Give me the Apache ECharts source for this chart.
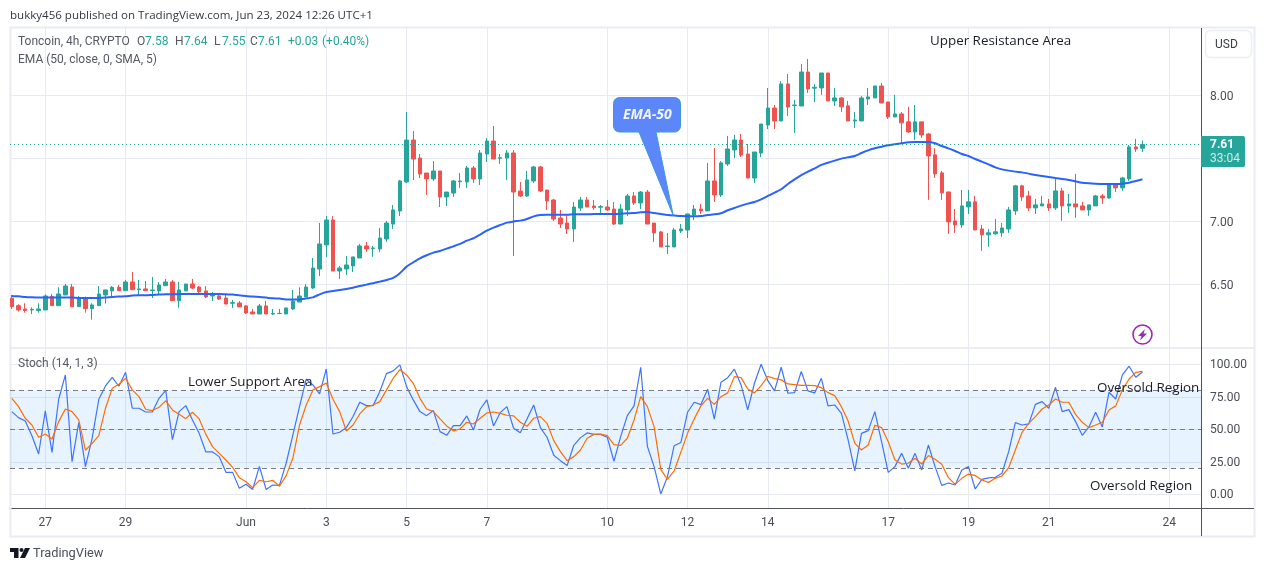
<!DOCTYPE html>
<html><head><meta charset="utf-8">
<style>html,body{margin:0;padding:0;background:#fff}#c{width:1265px;height:571px}</style>
<script src="https://cdn.jsdelivr.net/npm/echarts@6/dist/echarts.min.js"></script>
</head><body><div id="c"></div>
<script>
const opens=[6.388,6.330,6.304,6.296,6.291,6.296,6.404,6.330,6.415,6.478,6.322,6.391,6.306,6.330,6.415,6.447,6.476,6.449,6.518,6.457,6.463,6.449,6.447,6.489,6.518,6.370,6.447,6.502,6.478,6.447,6.407,6.407,6.391,6.349,6.351,6.328,6.280,6.264,6.328,6.264,6.267,6.264,6.304,6.359,6.399,6.470,6.621,6.812,7.010,6.605,6.621,6.645,6.709,6.804,6.783,6.780,6.859,6.978,7.082,7.312,7.645,7.502,7.383,7.336,7.399,7.193,7.224,7.314,7.312,7.423,7.336,7.534,7.637,7.500,7.502,7.542,7.240,7.201,7.320,7.431,7.248,7.169,7.026,6.986,6.939,7.105,7.169,7.121,7.111,7.113,7.097,6.978,7.090,7.201,7.145,7.232,6.986,6.915,6.799,6.796,6.923,6.931,7.050,7.097,7.082,7.320,7.209,7.455,7.566,7.645,7.534,7.343,7.542,7.764,7.899,7.796,8.090,7.918,7.915,8.185,8.056,8.058,8.177,7.955,7.979,7.916,7.796,7.796,7.971,7.979,8.074,7.947,7.828,7.852,7.789,7.709,7.789,7.693,7.527,7.384,7.233,7.003,6.971,7.114,7.154,6.939,6.892,6.900,6.908,6.939,7.082,7.281,7.201,7.106,7.122,7.138,7.106,7.241,7.122,7.138,7.122,7.090,7.122,7.201,7.185,7.289,7.265,7.336,7.590,7.58];
const closes=[6.322,6.296,6.291,6.301,6.304,6.407,6.330,6.423,6.486,6.322,6.394,6.306,6.336,6.423,6.455,6.476,6.449,6.518,6.457,6.463,6.449,6.455,6.494,6.518,6.370,6.455,6.502,6.470,6.441,6.399,6.415,6.383,6.343,6.354,6.320,6.272,6.264,6.328,6.264,6.269,6.269,6.312,6.367,6.407,6.478,6.629,6.820,7.010,6.605,6.629,6.653,6.717,6.804,6.780,6.788,6.867,6.986,7.090,7.320,7.645,7.494,7.375,7.336,7.399,7.193,7.232,7.320,7.320,7.423,7.336,7.542,7.637,7.494,7.505,7.542,7.232,7.201,7.328,7.431,7.240,7.161,7.018,6.978,6.939,7.113,7.169,7.113,7.108,7.116,7.090,6.978,7.097,7.201,7.145,7.232,6.978,6.907,6.796,6.804,6.931,6.939,7.058,7.097,7.082,7.320,7.209,7.463,7.574,7.645,7.526,7.343,7.550,7.772,7.899,7.796,8.090,7.907,7.923,8.185,8.050,8.064,8.177,7.955,7.979,7.908,7.796,7.804,7.979,7.987,8.074,7.939,7.828,7.852,7.781,7.709,7.789,7.685,7.519,7.376,7.225,6.995,6.971,7.122,7.154,6.931,6.892,6.908,6.916,6.947,7.090,7.281,7.193,7.106,7.130,7.138,7.106,7.241,7.122,7.138,7.114,7.090,7.130,7.201,7.185,7.289,7.265,7.344,7.590,7.574,7.61];
const lows=[6.304,6.283,6.275,6.264,6.275,6.296,6.330,6.330,6.415,6.322,6.322,6.275,6.219,6.330,6.346,6.402,6.449,6.449,6.457,6.415,6.449,6.391,6.415,6.489,6.370,6.314,6.447,6.463,6.428,6.391,6.367,6.375,6.343,6.312,6.320,6.264,6.264,6.264,6.264,6.256,6.264,6.264,6.296,6.359,6.399,6.463,6.566,6.717,6.605,6.542,6.574,6.597,6.709,6.756,6.717,6.756,6.836,6.939,7.042,7.304,7.328,7.343,7.209,7.320,7.113,7.121,7.193,7.264,7.264,7.304,7.288,7.470,7.494,7.455,7.328,6.724,7.193,7.193,7.304,7.232,7.090,7.002,6.947,6.899,6.836,7.082,7.113,7.090,7.066,7.082,6.970,6.978,7.042,7.129,7.097,6.978,6.836,6.796,6.740,6.796,6.907,6.867,7.010,7.058,7.082,7.153,7.193,7.439,7.502,7.510,7.343,7.304,7.510,7.732,7.732,7.796,7.836,7.701,7.915,8.018,7.947,8.003,7.955,7.916,7.868,7.796,7.741,7.796,7.923,7.979,7.939,7.812,7.828,7.614,7.701,7.646,7.662,7.170,7.344,7.170,6.900,6.908,6.947,7.058,6.931,6.765,6.797,6.892,6.876,6.908,7.050,7.162,7.082,7.058,7.122,7.082,7.090,7.003,7.066,7.027,7.090,7.043,7.122,7.138,7.177,7.233,7.241,7.320,7.550,7.55];
const highs=[6.415,6.341,6.349,6.317,6.349,6.420,6.423,6.476,6.502,6.502,6.407,6.402,6.349,6.486,6.455,6.486,6.494,6.534,6.597,6.534,6.526,6.558,6.518,6.542,6.534,6.518,6.502,6.542,6.486,6.486,6.439,6.423,6.423,6.375,6.367,6.336,6.304,6.344,6.367,6.304,6.304,6.312,6.455,6.476,6.502,6.709,6.986,7.042,7.042,6.645,6.724,6.717,6.820,6.836,6.804,6.947,7.002,7.129,7.328,7.867,7.716,7.534,7.383,7.478,7.399,7.232,7.328,7.383,7.439,7.439,7.566,7.661,7.756,7.534,7.566,7.566,7.312,7.399,7.439,7.439,7.248,7.177,7.090,7.050,7.153,7.193,7.193,7.169,7.129,7.169,7.153,7.137,7.217,7.232,7.240,7.248,6.986,6.923,6.907,6.947,6.978,7.058,7.129,7.137,7.463,7.582,7.478,7.677,7.685,7.693,7.613,7.550,7.772,8.058,7.923,8.113,8.169,7.963,8.248,8.288,8.090,8.177,8.177,8.058,7.987,7.955,7.868,7.995,8.058,8.074,8.098,7.947,8.003,7.868,7.908,7.923,7.789,7.701,7.582,7.400,7.233,7.098,7.249,7.249,7.201,6.971,6.939,7.019,6.987,7.114,7.289,7.289,7.241,7.177,7.201,7.177,7.344,7.265,7.217,7.376,7.154,7.130,7.209,7.217,7.304,7.304,7.352,7.606,7.654,7.64];
const ema50=[6.407,6.404,6.399,6.396,6.394,6.394,6.394,6.394,6.394,6.394,6.391,6.391,6.391,6.391,6.394,6.399,6.402,6.404,6.410,6.412,6.412,6.415,6.418,6.420,6.420,6.423,6.423,6.423,6.423,6.423,6.423,6.423,6.420,6.418,6.412,6.407,6.402,6.399,6.394,6.388,6.386,6.380,6.380,6.380,6.388,6.396,6.420,6.439,6.447,6.455,6.463,6.473,6.486,6.497,6.508,6.521,6.534,6.550,6.588,6.640,6.674,6.706,6.730,6.751,6.764,6.783,6.801,6.820,6.846,6.865,6.894,6.925,6.949,6.970,6.989,6.999,7.005,7.018,7.039,7.050,7.052,7.052,7.052,7.052,7.055,7.055,7.055,7.058,7.058,7.058,7.058,7.060,7.063,7.066,7.071,7.074,7.066,7.058,7.050,7.045,7.042,7.039,7.039,7.042,7.050,7.055,7.063,7.087,7.105,7.124,7.140,7.153,7.174,7.201,7.227,7.254,7.296,7.333,7.367,7.394,7.420,7.447,7.465,7.481,7.497,7.508,7.518,7.542,7.563,7.579,7.592,7.603,7.611,7.619,7.627,7.629,7.629,7.629,7.619,7.597,7.579,7.558,7.534,7.518,7.494,7.473,7.452,7.428,7.412,7.402,7.394,7.388,7.378,7.367,7.359,7.351,7.343,7.336,7.328,7.317,7.306,7.301,7.298,7.296,7.296,7.296,7.298,7.306,7.320,7.333];
const stochK=[63.6,59.0,56.4,45.1,31.0,64.1,32.3,73.1,91.8,25.1,55.1,21.3,43.1,73.1,83.3,90.0,83.1,93.8,66.2,66.2,63.3,63.3,73.8,80.0,42.0,63.6,68.2,57.2,46.9,32.6,32.6,29.0,16.9,16.9,4.6,7.7,3.8,21.5,3.8,7.2,6.9,23.9,45.6,67.4,88.5,84.1,77.2,96.4,46.4,47.7,51.3,59.8,70.8,68.2,68.2,79.0,92.8,94.9,99.5,82.8,72.6,63.6,60.5,64.4,48.2,45.4,52.8,52.8,60.3,49.5,65.4,72.6,52.6,62.8,67.4,50.8,47.4,57.9,68.7,51.3,43.9,30.0,25.9,22.1,37.7,43.6,47.2,46.1,46.1,43.9,25.4,44.4,60.5,68.0,97.7,36.9,21.3,0.3,13.6,37.4,39.8,63.1,70.8,69.0,80.8,57.9,86.2,89.7,96.2,84.1,64.9,85.4,100,87.4,79.5,97.7,77.7,78.2,94.4,79.5,78.0,89.2,68.0,68.7,62.3,41.8,18.0,46.9,49.0,63.6,40.5,16.9,21.3,31.5,20.0,31.5,18.7,37.9,21.3,6.9,8.7,7.2,18.7,21.3,4.1,11.5,12.6,13.1,16.2,32.8,55.1,53.3,54.1,69.2,71.3,66.2,82.3,63.6,65.1,55.9,45.4,51.8,63.1,51.8,78.5,73.3,91.8,98.5,90.0,94.1];
const stochD=[73.8,67.4,58.5,53.3,43.9,46.4,42.6,55.9,65.6,63.6,57.2,33.9,39.2,45.1,66.2,81.5,84.6,89.2,80.3,75.1,65.4,64.4,66.9,72.1,64.9,61.5,58.2,63.1,58.0,46.1,36.7,31.5,26.4,20.8,12.8,9.7,5.1,10.8,9.7,10.8,6.2,14.4,27.7,53.3,68.7,80.3,82.8,85.6,73.1,63.6,48.7,53.3,61.8,67.2,68.7,71.3,80.3,89.2,95.9,91.8,85.4,73.8,65.6,63.6,58.0,52.6,48.7,50.3,55.4,54.1,58.5,62.6,63.3,62.3,60.8,60.3,55.4,52.3,58.5,59.8,54.6,41.3,32.8,25.9,29.0,34.1,43.1,46.1,46.4,45.1,38.2,37.7,43.1,57.2,75.1,67.4,52.1,19.2,11.5,18.0,32.3,46.9,58.0,68.0,73.8,69.2,75.1,78.0,90.5,89.7,81.0,78.0,83.6,90.8,89.0,88.0,84.9,84.4,83.8,83.8,83.6,82.0,78.2,75.9,67.4,56.4,39.2,34.1,37.9,53.1,51.3,40.5,26.4,23.3,23.9,27.7,23.3,29.8,26.9,23.1,12.8,7.7,12.3,15.6,14.4,11.0,9.2,12.3,14.1,20.5,34.1,47.7,54.6,59.8,65.6,68.7,73.3,70.8,70.8,61.5,55.4,51.3,53.3,55.4,64.9,68.0,80.3,88.7,93.8,94.5];
const dateTickBars=[5,17,35,47,59,71,89,101,113,131,143,155,173];
const dateTickLabels=['27','29','Jun','3','5','7','10','12','14','17','19','21','24'];
const priceGridTicks=[6.5,7,7.5,8];
const priceLabelTicks=[6.5,7,8];
const stochTicks=[0,25,50,75,100];
const lastPrice=7.61;

const UP='#26a69a',DOWN='#ef5350',GRID='#e7ebf1',AX='#50535e',TXT='#4a4d57';
const FF='"Open Sans","Noto Sans",sans-serif', RB='Roboto,sans-serif';
const candleData=opens.map((o,i)=>[i,o,closes[i],lows[i],highs[i]]);
const barIdx=opens.map((_,i)=>i);
const xBase={type:'value',min:-0.277,max:177.75,axisLine:{show:false},
  axisTick:{show:false,customValues:dateTickBars},
  splitLine:{show:true,lineStyle:{color:GRID,width:1}}};
const chart=echarts.init(document.getElementById('c'),null,{renderer:'canvas'});
const t=(x,y,text,size,color,extra,z)=>({type:'text',x,y:y+1,silent:true,z:z||50,
  style:Object.assign({text,fontSize:size,fontFamily:RB,fill:color,verticalAlign:'middle'},extra||{})});
const op=(x,y,text,size,color)=>t(x,y,text,size,color,{fontFamily:FF});
chart.setOption({
  animation:false,backgroundColor:'#fff',
  grid:[{left:10,top:28,width:1191,height:319},{left:10,top:348,width:1191,height:160}],
  xAxis:[
    Object.assign({},xBase,{gridIndex:0,axisLabel:{show:false}}),
    Object.assign({},xBase,{gridIndex:1,
      axisLine:{show:true,onZero:false,lineStyle:{color:AX,width:1}},
      axisLabel:{show:true,customValues:dateTickBars,color:TXT,fontSize:12,fontFamily:RB,margin:9,
        formatter:v=>dateTickLabels[dateTickBars.indexOf(v)]}})
  ],
  yAxis:[
    {type:'value',gridIndex:0,position:'right',min:6.002,max:8.534,
     axisLine:{show:false},axisTick:{show:false,customValues:priceGridTicks},
     splitLine:{show:true,lineStyle:{color:GRID,width:1}},
     axisLabel:{customValues:priceLabelTicks,color:TXT,fontSize:12,fontFamily:RB,margin:9,verticalAlign:'top',lineHeight:3,formatter:v=>v.toFixed(2)}},
    {type:'value',gridIndex:1,position:'right',min:-10.5,max:112.5,
     axisLine:{show:false},axisTick:{show:false,customValues:stochTicks},
     splitLine:{show:true,lineStyle:{color:GRID,width:1}},
     axisLabel:{customValues:stochTicks,color:TXT,fontSize:12,fontFamily:RB,margin:9,verticalAlign:'top',lineHeight:2,formatter:v=>v.toFixed(2)}}
  ],
  series:[
    {type:'candlestick',name:'Toncoin',xAxisIndex:0,yAxisIndex:0,data:candleData,barWidth:4,z:3,
     itemStyle:{color:UP,color0:DOWN,borderColor:UP,borderColor0:DOWN,borderWidth:1},
     markLine:{silent:true,symbol:'none',label:{show:false},animation:false,
       lineStyle:{color:'#26a69a',type:[1,3],width:1},data:[{yAxis:lastPrice}]}},
    {type:'line',name:'EMA',xAxisIndex:0,yAxisIndex:0,data:barIdx.map(i=>[i,ema50[i]]),showSymbol:false,symbol:'none',smooth:0.2,z:4,
     lineStyle:{color:'#2962ff',width:2}},
    {type:'line',name:'%K',xAxisIndex:1,yAxisIndex:1,data:barIdx.map(i=>[i,stochK[i]]),showSymbol:false,symbol:'none',z:4,
     lineStyle:{color:'#3f73ff',width:1.2},
     markArea:{silent:true,itemStyle:{color:'rgba(33,150,243,0.11)'},data:[[{yAxis:80},{yAxis:20}]]},
     markLine:{silent:true,symbol:'none',label:{show:false},animation:false,
       lineStyle:{color:'#787b86',type:[5,4],width:1},data:[{yAxis:80},{yAxis:50},{yAxis:20}]}},
    {type:'line',name:'%D',xAxisIndex:1,yAxisIndex:1,data:barIdx.map(i=>[i,stochD[i]]),showSymbol:false,symbol:'none',z:5,
     lineStyle:{color:'#ff6d00',width:1.2}}
  ],
  graphic:{elements:[
    {type:'rect',shape:{x:10.5,y:27.5,width:1244,height:509},silent:true,z:1,style:{fill:'none',stroke:'#e9ecf2',lineWidth:2}},
    {type:'line',shape:{x1:10,y1:348,x2:1254,y2:348},silent:true,z:2,style:{stroke:'#e4e7ef',lineWidth:1.5}},
    {type:'line',shape:{x1:1201.5,y1:28,x2:1201.5,y2:536},silent:true,z:6,style:{stroke:AX,lineWidth:1}},
    {type:'line',shape:{x1:1201,y1:508.5,x2:1254,y2:508.5},silent:true,z:6,style:{stroke:AX,lineWidth:1}},
    op(10,15,'bukky456 published on TradingView.com, Jun 23, 2024 12:26 UTC+1',11.55,'#333842'),
    t(18,41,'Toncoin, 4h, CRYPTO',12,'#555862'),
    t(137,41,'O',12,'#555862'),t(145,41,'7.58',12,UP),
    t(175,41,'H',12,'#555862'),t(184,41,'7.64',12,UP),
    t(214,41,'L',12,'#555862'),t(222,41,'7.55',12,UP),
    t(250,41,'C',12,'#555862'),t(258,41,'7.61',12,UP),
    t(288,41,'+0.03',12,UP),t(322,41,'(+0.40%)',12,UP),
    t(18,59,'EMA (50, close, 0, SMA, 5)',12,'#555862'),
    t(18,363,'Stoch (14, 1, 3)',12,'#555862'),
    op(930,40,'Upper Resistance Area',13.4,'#1a1d26'),
    op(188,381,'Lower Support Area',13.4,'#1a1d26'),
    op(1097,387,'Oversold Region',13.4,'#1a1d26'),
    op(1090,485,'Oversold Region',13.4,'#1a1d26'),
    {type:'rect',silent:true,z:40,shape:{x:613.5,y:97.5,width:67,height:34.5,r:6},style:{fill:'#5c87fb',stroke:'#3d98d8',lineWidth:1}},
    {type:'polygon',silent:true,z:41,shape:{points:[[639,132],[656,132],[673.3,215.7]]},style:{fill:'#5c87fb',stroke:'#3d98d8',lineWidth:1}},
    {type:'rect',silent:true,z:42,shape:{x:639.6,y:128,width:15.9,height:5},style:{fill:'#5c87fb'}},
    t(623,114,'EMA-50',14,'#f2f5ff',{fontStyle:'italic',fontWeight:'bold',fontFamily:FF},43),
    {type:'rect',silent:true,z:7,shape:{x:1205.5,y:30.5,width:46,height:27,r:5},style:{fill:'#fff',stroke:'#eceef3',lineWidth:1.5}},
    t(1215,44,'USD',12,'#3a3d47'),
    {type:'rect',silent:true,z:7,shape:{x:1201,y:136,width:44,height:31,r:[0,2,2,0]},style:{fill:UP}},
    t(1210,144,'7.61',12,'#fff',{fontWeight:'bold'}),
    t(1210,158,'33:04',12,'#cdebe7'),
    {type:'circle',silent:true,z:8,shape:{cx:1142.5,cy:334.5,r:9.5},style:{fill:'#fff',stroke:'#9c27b0',lineWidth:1.6}},
    {type:'polygon',silent:true,z:9,shape:{points:[[1145,329],[1138,336],[1141.5,336],[1140,340.5],[1147,333.5],[1143.5,333.5]]},style:{fill:'#9c27b0'}},
    {type:'polygon',silent:true,z:8,shape:{points:[[10,548],[18.5,548],[18.5,558],[14,558],[14,552],[10,552]]},style:{fill:'#131722'}},
    {type:'circle',silent:true,z:8,shape:{cx:21.5,cy:550,r:2},style:{fill:'#131722'}},
    {type:'polygon',silent:true,z:8,shape:{points:[[25,548],[30,548],[25,558],[20,558]]},style:{fill:'#131722'}},
    t(33,553,'TradingView',12.8,'#4c4f59')
  ]}
});
</script></body></html>
